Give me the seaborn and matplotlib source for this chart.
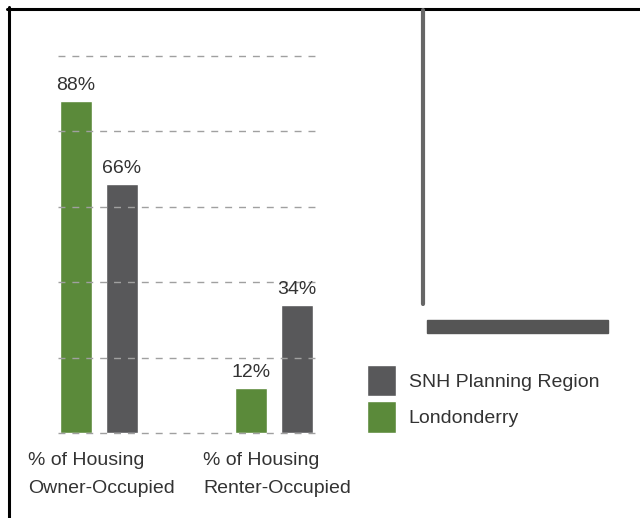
import pandas as pd
import matplotlib.pyplot as plt
import seaborn as sns
from matplotlib.lines import Line2D
from matplotlib.patches import Rectangle
from matplotlib.transforms import ScaledTranslation

# data
categories = ['% of Housing\nOwner-Occupied', '% of Housing\nRenter-Occupied']
londonderry = [88, 12]
snh_region = [66, 34]
regions = ['Londonderry', 'SNH Planning Region']
colors = ['#5b8a3a', '#58585a']

df = pd.DataFrame({
    'categoria': categories * 2,
    'valor': londonderry + snh_region,
    'regiao': [regions[0]] * 2 + [regions[1]] * 2,
})

sns.set_style('white')
plt.rcParams['font.family'] = ['Liberation Sans', 'DejaVu Sans']
text_color = '#333333'

fig = plt.figure(figsize=(6.4, 5.18), dpi=100)
ax = fig.add_axes([58 / 640, 85 / 518, 262 / 640, 377 / 518])

sns.barplot(data=df, x='categoria', y='valor', hue='regiao', hue_order=regions,
            palette=colors, width=0.526, gap=0.3, ax=ax, saturation=1, legend=True)

for cont in ax.containers:
    ax.bar_label(cont, fmt='%d%%', padding=5, fontsize=14, color=text_color)

ax.set_ylim(0, 100)
ax.set_xlim(-0.234, 1.263)
ax.set_yticks([0, 20, 40, 60, 80, 100])
ax.yaxis.grid(True, linestyle=(0, (5, 5)), color='#a0a0a0', linewidth=1)
ax.set_axisbelow(False)
for gl in ax.yaxis.get_gridlines():
    gl.set_clip_on(False)
ax.set_yticklabels([])
ax.tick_params(axis='y', length=0)
ax.set_xticks([0, 1])
ax.set_xticklabels(categories, ha='left', linespacing=1.85, fontsize=14, color=text_color)
ax.tick_params(axis='x', length=0, pad=14)
for lab in ax.get_xticklabels():
    lab.set_transform(lab.get_transform() + ScaledTranslation(-0.71, 0, fig.dpi_scale_trans))
ax.set_xlabel('')
ax.set_ylabel('')
sns.despine(ax=ax, left=True, bottom=True)

# legend: SNH first, then Londonderry
handles, labels = ax.get_legend_handles_labels()
ax.get_legend().remove()
fig.legend(handles[::-1], labels[::-1], loc='upper left',
           bbox_to_anchor=(367 / 640, 1 - 365 / 518), frameon=False,
           fontsize=14, labelcolor=text_color, handlelength=1.5,
           handleheight=2.08, labelspacing=0.28, handletextpad=0.65,
           borderpad=0, borderaxespad=0)

# frame and leftover shapes from the original page
W, H = 640, 518
fig.add_artist(Line2D([7 / W, 1], [1 - 8.5 / H] * 2, color='black', lw=2.2))
fig.add_artist(Line2D([8.5 / W] * 2, [0, 1 - 7 / H], color='black', lw=2.2))
fig.add_artist(Line2D([423 / W] * 2, [1 - 10 / H, 1 - 304 / H], color='#666666', lw=3))
fig.add_artist(Rectangle((427 / W, 1 - 333 / H), 181 / W, 13 / H,
                         color='#555555', transform=fig.transFigure))

plt.savefig('out.png', dpi=100)
